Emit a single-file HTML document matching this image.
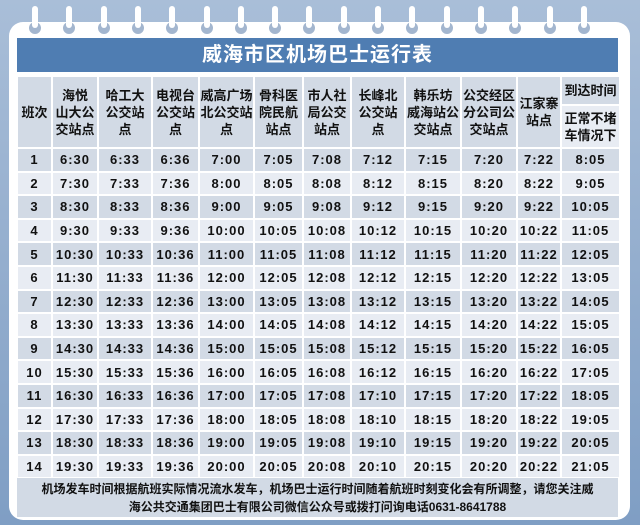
<!DOCTYPE html>
<html><head><meta charset="utf-8"><style>
*{margin:0;padding:0;box-sizing:border-box}
body{width:640px;height:525px;overflow:hidden;background:linear-gradient(180deg,#a9bed8,#7f9ec4);font-family:"Liberation Sans","Noto Sans CJK SC",sans-serif;position:relative}
.card{position:absolute;left:9px;top:22px;width:621px;height:498px;background:#fff;border-radius:14px}
.ring{position:absolute;top:6px;width:6px;height:22px;background:#fff;border-radius:3px}
.hole{position:absolute;top:22px;width:12px;height:12px;border-radius:50%;background:#a3b6cf}
.title{position:absolute;left:17px;top:38px;width:601px;height:34px;background:#4f7db2;color:#fff;font-weight:bold;font-size:20px;text-align:center;line-height:34px;letter-spacing:1px}
table{position:absolute;left:16px;top:75px;border-collapse:collapse;table-layout:fixed;width:603px}
td{border:2px solid #fff;text-align:center;font-weight:bold;font-size:13px;color:#111;padding:0;line-height:17px}
tr.d td{background:#d2dae5;height:23.6px;letter-spacing:1px}
tr.l td{background:#e8ecf3;height:23.6px;letter-spacing:1px}
tr.h td{background:#d2dae5}
.foot{position:absolute;left:17px;top:478px;width:601px;height:39px;background:#d2dae5;font-weight:bold;font-size:12px;text-align:center;line-height:18px;padding-top:2px;color:#111}
</style></head><body>
<div class="card"></div>
<div id="rings"></div>
<div class="title">威海市区机场巴士运行表</div>
<table>
<colgroup><col style="width:35px"><col style="width:46px"><col style="width:54px"><col style="width:47px"><col style="width:55px"><col style="width:49px"><col style="width:48px"><col style="width:54px"><col style="width:56px"><col style="width:56px"><col style="width:44px"><col style="width:59px"></colgroup>
<tr class="h"><td rowspan="2" style="height:72px">班次</td><td rowspan="2">海悦<br>山大公<br>交站点</td><td rowspan="2">哈工大<br>公交站<br>点</td><td rowspan="2">电视台<br>公交站<br>点</td><td rowspan="2">威高广场<br>北公交站<br>点</td><td rowspan="2">骨科医<br>院民航<br>站点</td><td rowspan="2">市人社<br>局公交<br>站点</td><td rowspan="2">长峰北<br>公交站<br>点</td><td rowspan="2">韩乐坊<br>威海站公<br>交站点</td><td rowspan="2">公交经区<br>分公司公<br>交站点</td><td rowspan="2">江家寨<br>站点</td><td style="height:29px">到达时间</td></tr>
<tr class="h"><td style="background:#e8ecf3;height:43px">正常不堵<br>车情况下</td></tr>
<tbody id="tb"></tbody>
</table>
<div class="foot">机场发车时间根据航班实际情况流水发车，机场巴士运行时间随着航班时刻变化会有所调整，请您关注威<br>海公共交通集团巴士有限公司微信公众号或拨打问询电话0631-8641788</div>
<script>
var r=document.getElementById('rings'),h='';
for(var k=0;k<17;k++){var x=35+k*34.3;h+='<div class="hole" style="left:'+(x-6)+'px"></div><div class="ring" style="left:'+(x-3)+'px"></div>';}
r.innerHTML=h;
var t='';
for(var i=1;i<=14;i++){var a=5+i,b=6+i,c=7+i;
var v=[i,a+':30',a+':33',a+':36',b+':00',b+':05',b+':08',b+(i<=10?':12':':10'),b+':15',b+':20',b+':22',c+':05'];
t+='<tr class="'+(i%2?'d':'l')+'">'+v.map(function(s){return '<td>'+s+'</td>'}).join('')+'</tr>';}
document.getElementById('tb').innerHTML=t;
</script>
</body></html>
